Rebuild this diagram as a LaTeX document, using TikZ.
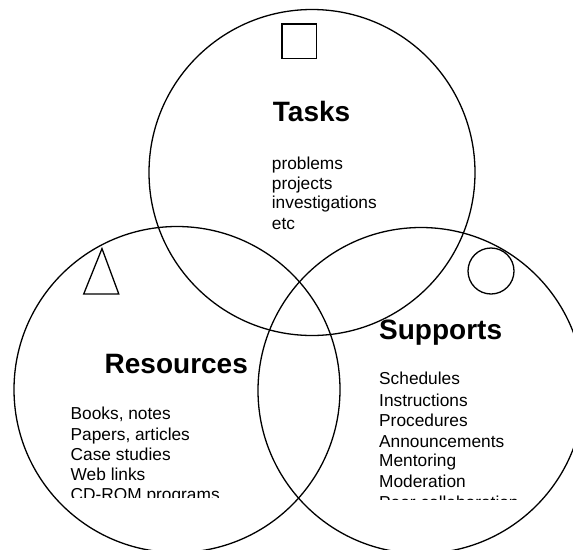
\documentclass[tikz,border=0pt]{standalone}
\usepackage{fontspec}
\setmainfont{Liberation Sans}
\begin{document}
\begin{tikzpicture}[x=1pt,y=-1pt,
  ring/.style={draw, circle, line width=1.3pt, inner sep=0pt, minimum size=326pt},
  mark shape/.style={draw, line width=1.3pt, inner sep=0pt},
  ttl/.style={anchor=base west, inner sep=0pt, font=\fontsize{28}{30}\selectfont\bfseries},
  itm/.style={anchor=base west, inner sep=0pt, font=\fontsize{17.3}{20}\selectfont}]
\clip (0,0) rectangle (573,549);
% big circles
\node[ring] (tasks) at (312,172.5) {};
\node[ring] (res) at (177,389.5) {};
\node[ring] (sup) at (421,390.5) {};
% small symbols
\node[mark shape, minimum width=34.5pt, minimum height=34.7pt] (sq) at (299.3,41.2) {};
\draw[line width=1.3pt, line join=miter] (102,248.6) -- (83.7,294) -- (118.8,294) -- cycle;
\node[mark shape, circle, minimum size=46pt] (oc) at (491,271) {};
% Tasks
\node[ttl] (tt) at (272.7,121.5) {Tasks};
\node[itm] (t1) at (271.7,169) {problems};
\node[itm] (t2) at (271.7,189) {projects};
\node[itm] (t3) at (271.7,208.3) {investigations};
\node[itm] (t4) at (271.7,229) {etc};
% Resources
\node[ttl] (rt) at (104.5,373) {Resources};
\begin{scope}
\clip (60,400) rectangle (300,497.5);
\node[itm] (r1) at (70.5,419) {Books, notes};
\node[itm] (r2) at (70.5,440) {Papers, articles};
\node[itm] (r3) at (70.5,460.7) {Case studies};
\node[itm] (r4) at (70.5,480.7) {Web links};
\node[itm] (r5) at (70.5,500.7) {CD-ROM programs};
\end{scope}
% Supports
\node[ttl] (st) at (379,339.5) {Supports};
\begin{scope}
\clip (370,365) rectangle (573,499.5);
\node[itm] (s1) at (379,384) {Schedules};
\node[itm] (s2) at (379,406) {Instructions};
\node[itm] (s3) at (379,426.2) {Procedures};
\node[itm] (s4) at (379,447) {Announcements};
\node[itm] (s5) at (379,466.8) {Mentoring};
\node[itm] (s6) at (379,487.5) {Moderation};
\node[itm] (s7) at (379,508.5) {Peer collaboration};
\end{scope}
\end{tikzpicture}
\end{document}
